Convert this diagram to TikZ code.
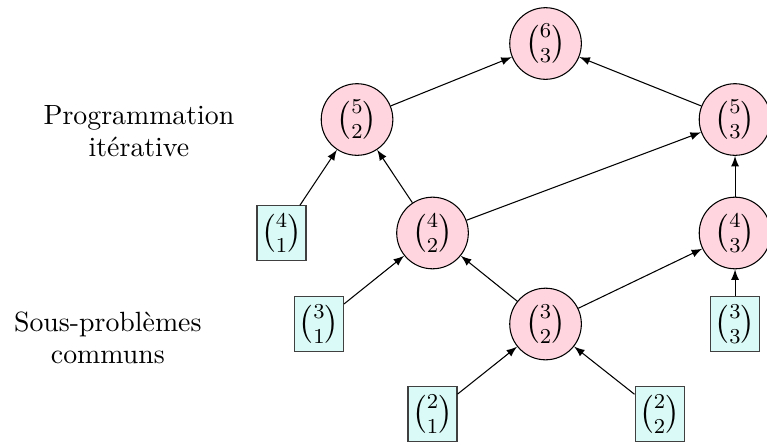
\documentclass[tikz,border=0pt]{standalone}
\usepackage{amsmath}
\definecolor{rose}{RGB}{255,214,224}
\definecolor{bleu}{RGB}{217,250,246}
\begin{document}
\begin{tikzpicture}
[cercle/.style={circle,draw,fill=rose,minimum size=0.95cm,inner sep=0pt,font=\large},
carre/.style={rectangle,draw=black!75,fill=bleu,minimum width=0.65cm,minimum height=0.72cm,inner sep=1pt,font=\large},
etiquette/.style={align=center,font=\fontsize{10.5pt}{12pt}\selectfont},
>=latex]
\useasboundingbox (0,0) rectangle (10.172,5.849);
\node (c63) [cercle] at (7.235,5.272) {$\binom{6}{3}$}; % sommet
\node (c52) [cercle] at (4.735,4.264) {$\binom{5}{2}$};
\node (c53) [cercle] at (9.748,4.264) {$\binom{5}{3}$};
\node (c41) [carre] at (3.733,2.759) {$\binom{4}{1}$};
\node (c42) [cercle] at (5.736,2.759) {$\binom{4}{2}$};
\node (c43) [cercle] at (9.748,2.759) {$\binom{4}{3}$};
\node (c31) [carre] at (4.231,1.552) {$\binom{3}{1}$};
\node (c32) [cercle] at (7.235,1.552) {$\binom{3}{2}$};
\node (c33) [carre] at (9.748,1.552) {$\binom{3}{3}$};
\node (c21) [carre] at (5.736,0.358) {$\binom{2}{1}$};
\node (c22) [carre] at (8.747,0.358) {$\binom{2}{2}$};

\node (iter) [etiquette] at (1.843,4.105) {Programmation\\itérative};
\node (communs) [etiquette] at (1.43,1.366) {Sous-problèmes\\communs};

\draw[->] (c52) -- (c63);
\draw[->] (c53) -- (c63);
\draw[->] (c41) -- (c52);
\draw[->] (c42) -- (c52);
\draw[->] (c42) -- (c53);
\draw[->] (c43) -- (c53);
\draw[->] (c31) -- (c42);
\draw[->] (c32) -- (c42);
\draw[->] (c32) -- (c43);
\draw[->] (c33) -- (c43);
\draw[->] (c21) -- (c32);
\draw[->] (c22) -- (c32);
\end{tikzpicture}
\end{document}
